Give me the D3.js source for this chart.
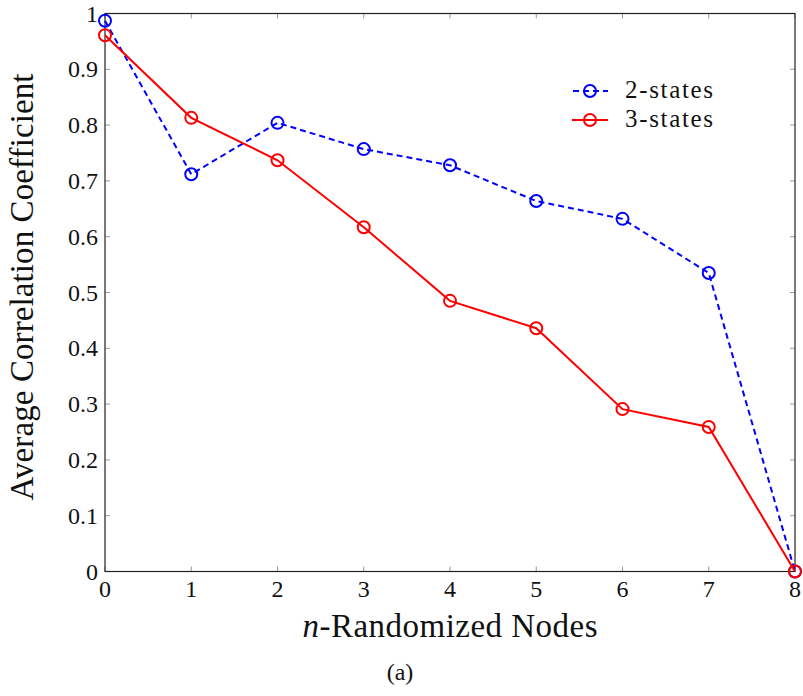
<!DOCTYPE html>
<html><head><meta charset="utf-8">
<script src="https://cdn.jsdelivr.net/npm/d3@7"></script>
<style>body{margin:0;background:#fff}</style>
</head><body>
<svg id="c" width="803" height="696" font-family="'Liberation Serif', 'Times New Roman', Times, 'DejaVu Serif', serif"></svg>
<script>
const xCategories = [0,1,2,3,4,5,6,7,8];
const twoStates = [0.987,0.712,0.804,0.757,0.728,0.664,0.632,0.535,0.0];
const threeStates = [0.961,0.813,0.737,0.617,0.485,0.436,0.291,0.259,0.0];
const yTicks = [0,0.1,0.2,0.3,0.4,0.5,0.6,0.7,0.8,0.9,1];
const seriesNames = ["2-states","3-states"];

const svg = d3.select("#c");
const L=105,R=795,T=13.5,B=571.5;
const x = d3.scaleLinear().domain([0,8]).range([L,R]);
const y = d3.scaleLinear().domain([0,1]).range([B,T]);

const g = svg.append("g");
xCategories.forEach(v=>{
  g.append("line").attr("x1",x(v)).attr("x2",x(v)).attr("y1",B).attr("y2",B-5).attr("stroke","#999").attr("stroke-width",1);
  g.append("line").attr("x1",x(v)).attr("x2",x(v)).attr("y1",T).attr("y2",T+5).attr("stroke","#999").attr("stroke-width",1);
});
yTicks.forEach(v=>{
  g.append("line").attr("x1",L).attr("x2",L+5).attr("y1",y(v)).attr("y2",y(v)).attr("stroke","#999").attr("stroke-width",1);
  g.append("line").attr("x1",R).attr("x2",R-5).attr("y1",y(v)).attr("y2",y(v)).attr("stroke","#999").attr("stroke-width",1);
});
svg.append("rect").attr("x",L).attr("y",T).attr("width",R-L).attr("height",B-T).attr("fill","none").attr("stroke","#222").attr("stroke-width",1.2);

svg.append("g").selectAll("text").data(xCategories).join("text")
  .attr("x",d=>x(d)).attr("y",597).attr("text-anchor","middle").attr("font-size",24).attr("fill","#111").text(d=>d);
svg.append("g").selectAll("text").data(yTicks).join("text")
  .attr("x",L-7).attr("y",d=>y(d)+8).attr("text-anchor","end").attr("font-size",24).attr("fill","#111").text(d=>d3.format("~g")(d));

const xl = svg.append("text").attr("x",450).attr("y",637).attr("text-anchor","middle").attr("font-size",33).attr("fill","#111")
  .attr("textLength",295);
xl.append("tspan").attr("font-style","italic").text("n");
xl.append("tspan").text("-Randomized Nodes");
svg.append("text").attr("transform","translate(33,287) rotate(-90)").attr("text-anchor","middle").attr("font-size",33).attr("fill","#111")
  .attr("textLength",427).text("Average Correlation Coefficient");
svg.append("text").attr("x",400).attr("y",680).attr("text-anchor","middle").attr("font-size",24).attr("fill","#111").text("(a)");

const line = d3.line().x((d,i)=>x(xCategories[i])).y(d=>y(d));
const series = [
  {name:seriesNames[0],vals:twoStates,color:"#0000ff",dash:"6,4"},
  {name:seriesNames[1],vals:threeStates,color:"#ff0000",dash:null}
];
series.forEach(s=>{
  svg.append("path").attr("d",line(s.vals)).attr("fill","none").attr("stroke",s.color).attr("stroke-width",2).attr("stroke-dasharray",s.dash);
  svg.append("g").selectAll("circle").data(s.vals).join("circle")
    .attr("cx",(d,i)=>x(xCategories[i])).attr("cy",d=>y(d)).attr("r",6).attr("fill","none").attr("stroke",s.color).attr("stroke-width",2);
});

series.forEach((s,i)=>{
  const ly = 91 + i*29;
  svg.append("line").attr("x1",572).attr("x2",608).attr("y1",ly).attr("y2",ly).attr("stroke",s.color).attr("stroke-width",2).attr("stroke-dasharray",s.dash?"6,4":null).attr("stroke-dashoffset",s.dash?-1:null);
  svg.append("circle").attr("cx",590).attr("cy",ly).attr("r",6).attr("fill","none").attr("stroke",s.color).attr("stroke-width",2);
  svg.append("text").attr("x",625).attr("y",ly+7).attr("font-size",25).attr("fill","#111").attr("textLength",88).text(s.name);
});
</script>
</body></html>
